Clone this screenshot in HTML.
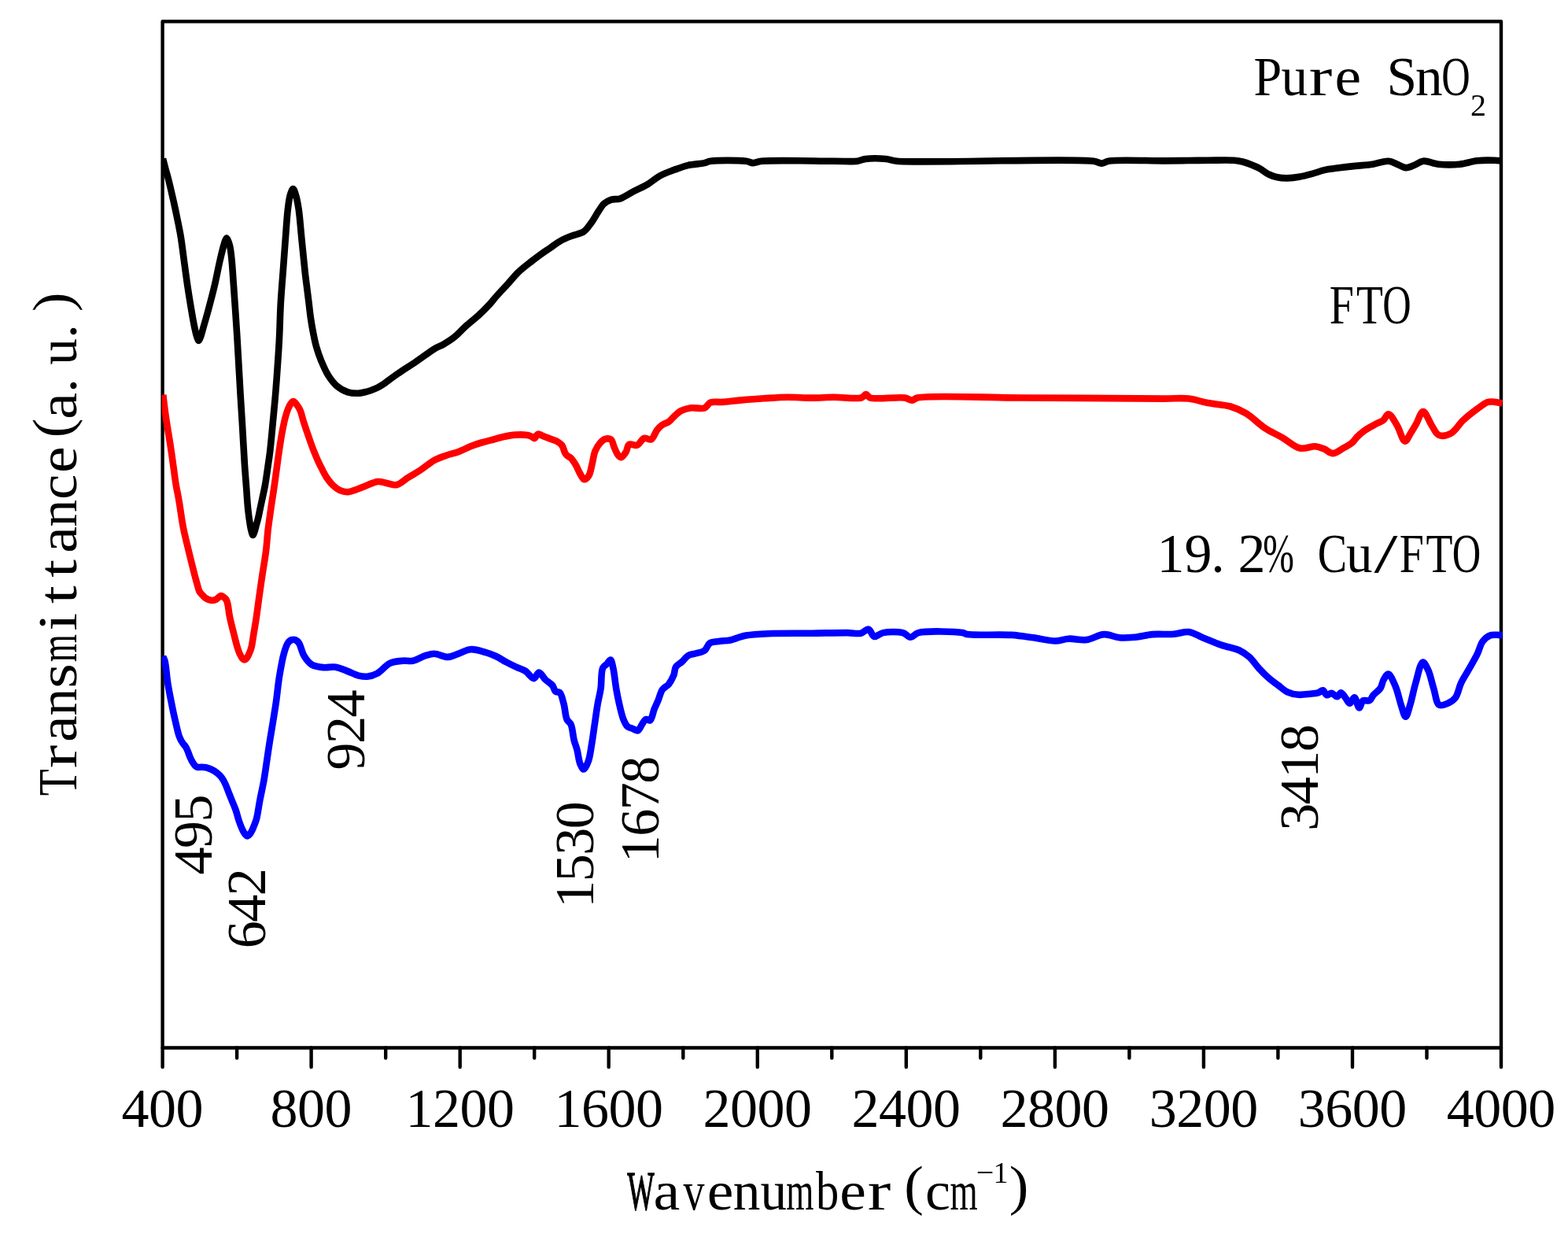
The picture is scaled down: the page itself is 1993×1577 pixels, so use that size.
<!DOCTYPE html>
<html><head><meta charset="utf-8"><title>FTIR</title>
<style>html,body{margin:0;padding:0;background:#fff;width:1993px;height:1577px;overflow:hidden}svg{display:block}</style>
</head><body><svg width="1993" height="1577" viewBox="0 0 1993 1577"><rect width="100%" height="100%" fill="#fff"/><rect x="206.6" y="27.2" width="1701.4" height="1304.3" fill="none" stroke="#000" stroke-width="4.4" stroke-linejoin="round"/><path d="M206.6 1331.5V1356.0M301.1 1331.5V1344.5M395.6 1331.5V1356.0M490.2 1331.5V1344.5M584.7 1331.5V1356.0M679.2 1331.5V1344.5M773.7 1331.5V1356.0M868.3 1331.5V1344.5M962.8 1331.5V1356.0M1057.3 1331.5V1344.5M1151.8 1331.5V1356.0M1246.3 1331.5V1344.5M1340.9 1331.5V1356.0M1435.4 1331.5V1344.5M1529.9 1331.5V1356.0M1624.4 1331.5V1344.5M1719.0 1331.5V1356.0M1813.5 1331.5V1344.5M1908.0 1331.5V1356.0" stroke="#000" stroke-width="4.4" stroke-linecap="round" fill="none"/><defs><clipPath id="pc"><rect x="205.7" y="0" width="1704.1" height="1577"/></clipPath></defs><g clip-path="url(#pc)" fill="none" stroke-linejoin="round" stroke-linecap="butt" stroke-width="8.6"><path stroke="#000" d="M207.0 201.5 C208.2 206.0 209.3 210.5 210.5 215.0 C211.7 219.4 212.8 222.9 214.1 228.0 C215.9 235.0 218.4 246.0 220.1 253.4 C221.4 259.2 222.4 263.8 223.5 269.0 C224.6 274.3 225.7 279.7 226.8 285.0 C227.8 290.3 228.8 294.8 229.8 301.0 C231.2 309.7 232.7 322.1 234.1 332.6 C235.6 343.2 236.9 353.7 238.5 364.3 C240.1 374.9 242.0 386.5 243.6 396.0 C244.9 403.7 246.2 411.1 247.5 417.0 C248.4 421.3 249.3 425.1 250.3 428.0 C251.0 430.0 251.7 433.0 252.5 433.0 C253.3 433.0 254.2 430.1 255.0 428.0 C256.2 424.9 257.2 420.5 258.5 416.0 C260.2 410.2 262.2 403.4 264.2 396.0 C266.7 386.7 269.9 374.9 272.4 364.3 C274.9 353.8 277.1 341.9 279.2 332.6 C280.9 325.3 282.6 318.1 284.0 313.0 C284.9 309.7 285.6 306.9 286.5 305.0 C287.0 303.9 287.6 302.4 288.2 302.5 C289.3 302.6 291.0 308.3 292.0 312.0 C293.3 317.0 293.8 323.2 294.5 330.0 C295.4 338.8 296.0 350.1 296.8 360.6 C297.6 371.7 298.4 383.5 299.2 395.0 C300.0 406.6 300.8 418.3 301.5 430.0 C302.2 441.7 302.8 453.3 303.5 465.0 C304.2 476.7 304.8 487.9 305.5 500.0 C306.3 512.9 307.2 525.9 308.0 540.0 C308.9 555.7 310.0 575.8 310.9 590.0 C311.6 600.7 312.3 608.6 313.0 617.9 C313.7 627.2 314.3 637.6 315.1 645.8 C315.8 652.2 316.5 657.9 317.3 663.0 C317.9 667.1 318.5 670.9 319.3 674.0 C319.9 676.3 320.7 680.0 321.5 680.0 C322.2 680.0 323.0 676.9 323.7 675.0 C324.5 672.7 325.1 669.6 325.8 667.0 C326.5 664.5 327.1 662.5 327.8 659.7 C328.8 655.8 329.6 651.2 330.8 645.8 C332.4 638.1 335.3 625.3 336.7 617.9 C337.6 613.1 338.0 610.3 338.6 606.0 C339.3 601.1 340.2 595.1 340.9 590.0 C341.6 585.2 342.2 581.9 342.9 576.1 C344.1 566.5 345.5 550.7 346.7 538.0 C347.9 525.3 349.2 512.4 350.2 500.0 C351.2 488.1 352.0 476.7 352.8 465.0 C353.6 453.3 354.4 442.4 355.0 430.0 C355.7 415.9 356.0 399.4 356.8 385.0 C357.6 371.7 358.6 359.7 359.6 346.8 C360.6 333.5 361.6 319.7 362.6 306.2 C363.7 292.7 364.6 276.3 365.9 265.6 C366.8 258.5 367.4 252.6 368.8 248.0 C369.8 244.7 371.3 240.0 372.5 240.0 C373.7 240.0 375.0 244.7 376.0 248.0 C377.5 252.7 378.5 258.5 379.6 265.6 C381.2 276.3 382.3 292.7 383.7 306.2 C385.1 319.7 386.5 335.2 387.8 346.8 C388.8 355.6 389.8 362.8 390.7 370.0 C391.5 376.3 392.2 381.9 392.9 387.8 C393.6 393.7 394.2 399.6 395.1 405.5 C396.0 411.4 397.0 417.4 398.2 423.3 C399.4 429.2 400.5 435.1 402.2 441.0 C403.9 447.0 406.0 452.9 408.4 458.8 C410.9 464.8 413.6 471.3 416.9 476.6 C420.0 481.6 423.3 486.3 427.5 489.9 C431.7 493.5 437.3 496.7 442.2 498.3 C446.6 499.7 451.6 499.8 455.5 499.7 C458.7 499.6 461.3 498.9 464.0 498.3 C466.5 497.7 468.5 497.2 471.0 496.3 C473.8 495.3 477.2 493.9 480.0 492.5 C482.7 491.1 485.0 489.6 487.5 488.0 C490.0 486.3 492.0 484.5 495.0 482.4 C499.1 479.4 505.0 475.2 510.1 471.8 C515.1 468.4 520.2 465.4 525.2 462.0 C530.2 458.6 535.5 454.8 540.2 451.5 C544.4 448.6 548.2 445.6 552.3 443.2 C556.2 440.9 560.3 439.5 564.3 437.2 C568.7 434.6 573.4 431.7 577.8 428.2 C582.7 424.3 587.0 419.0 592.0 414.5 C597.1 409.9 602.8 405.7 608.0 401.0 C613.2 396.2 618.9 390.4 623.0 386.0 C626.0 382.7 627.5 380.4 630.5 377.0 C634.6 372.3 640.7 366.0 645.6 360.6 C650.2 355.5 654.2 350.3 659.1 345.6 C664.2 340.8 670.6 336.0 675.7 332.0 C680.0 328.6 683.7 325.9 687.7 323.0 C691.7 320.1 695.8 317.5 699.8 314.7 C703.8 311.9 707.4 308.8 711.8 306.4 C716.4 303.8 721.8 301.7 726.9 299.7 C731.9 297.7 737.8 297.2 741.9 294.4 C745.7 291.8 748.0 287.9 751.0 283.9 C754.6 279.1 758.4 271.8 761.5 267.3 C763.7 264.0 765.0 261.2 767.5 259.0 C770.0 256.7 773.2 254.9 776.6 253.8 C780.2 252.6 784.4 253.7 788.6 252.3 C793.8 250.6 799.5 246.2 805.2 243.2 C811.1 240.1 817.6 237.5 823.2 234.2 C828.6 231.0 832.9 226.7 838.3 223.7 C843.9 220.6 850.2 218.4 856.3 216.1 C862.3 213.9 868.1 211.6 874.4 210.1 C881.1 208.5 890.3 208.3 895.5 207.1 C898.7 206.4 899.4 205.3 903.0 204.8 C911.7 203.5 938.9 203.6 948.2 204.8 C952.4 205.3 954.1 207.0 957.2 207.1 C960.6 207.2 962.4 205.4 967.7 204.8 C983.2 203.1 1037.7 204.8 1060.0 204.8 C1072.7 204.8 1082.7 205.7 1090.0 204.7 C1094.3 204.1 1095.8 202.6 1100.0 202.0 C1106.6 201.1 1118.7 201.3 1126.0 202.0 C1131.4 202.5 1132.4 204.0 1140.0 204.7 C1171.8 207.7 1362.3 200.8 1390.0 204.7 C1395.7 205.5 1396.7 207.6 1400.0 207.6 C1403.3 207.6 1405.1 205.2 1410.0 204.5 C1422.7 202.6 1461.5 204.5 1480.0 204.4 C1492.1 204.3 1500.4 204.1 1510.0 204.0 C1518.8 203.9 1526.2 203.8 1535.2 203.8 C1545.5 203.8 1560.2 203.2 1568.3 203.8 C1573.0 204.2 1575.7 204.6 1579.3 205.5 C1583.0 206.4 1586.7 207.8 1590.4 209.3 C1594.1 210.8 1597.8 212.3 1601.4 214.3 C1605.2 216.4 1608.7 219.6 1612.5 221.5 C1616.1 223.2 1619.6 224.5 1623.5 225.3 C1627.6 226.2 1632.2 226.5 1636.7 226.4 C1641.4 226.3 1646.2 225.7 1651.1 224.8 C1656.5 223.9 1662.2 222.4 1667.7 220.9 C1673.2 219.4 1678.7 217.1 1684.2 215.9 C1689.5 214.7 1694.2 214.4 1700.0 213.6 C1706.9 212.7 1715.3 211.7 1722.8 210.9 C1730.2 210.1 1737.8 209.8 1744.9 208.7 C1751.7 207.7 1759.2 204.3 1764.8 204.7 C1769.1 205.0 1772.1 207.3 1775.8 208.7 C1779.5 210.1 1783.1 212.9 1786.8 213.1 C1790.5 213.3 1794.3 211.2 1797.9 209.8 C1801.6 208.4 1804.6 205.2 1808.9 204.7 C1814.5 204.0 1821.7 208.0 1828.8 208.7 C1837.0 209.5 1846.9 209.5 1855.3 208.7 C1863.0 207.9 1870.0 205.1 1877.4 204.3 C1884.7 203.5 1893.5 203.6 1899.4 203.8 C1903.4 203.9 1906.1 204.3 1909.5 204.6"/><path stroke="#f00" d="M207.3 501.8 C208.0 507.9 208.7 514.2 209.5 520.0 C210.2 525.4 210.9 530.1 211.7 535.6 C212.7 541.9 213.9 549.2 215.0 556.0 C216.1 562.7 217.1 569.4 218.1 576.2 C219.1 583.1 220.0 590.2 221.0 597.0 C221.9 603.7 222.8 611.1 223.8 616.8 C224.5 621.1 225.3 624.2 226.0 628.0 C226.7 631.9 227.3 635.1 228.1 640.0 C229.4 647.8 230.9 660.3 232.9 670.4 C234.9 680.6 237.6 690.8 240.0 700.9 C242.5 711.1 245.6 723.8 247.6 731.3 C248.8 735.8 249.5 738.5 250.5 742.0 C251.5 745.3 252.1 749.0 253.5 751.6 C254.7 753.8 256.5 755.4 258.0 757.0 C259.3 758.4 260.4 759.5 262.0 760.5 C263.9 761.6 266.6 762.8 268.7 763.0 C270.5 763.2 272.4 762.7 274.0 762.0 C275.5 761.3 276.8 759.9 278.0 759.0 C279.1 758.2 279.9 757.0 281.0 757.0 C282.1 757.0 283.4 758.2 284.5 759.0 C285.6 759.8 286.7 760.7 287.5 762.0 C288.5 763.6 288.9 765.5 289.5 768.0 C290.4 771.8 290.7 777.4 291.8 782.8 C293.1 789.6 295.5 798.6 297.3 805.7 C298.8 811.8 300.3 818.1 301.8 822.8 C302.9 826.2 303.8 829.0 305.0 831.5 C305.9 833.4 306.9 835.3 308.0 836.5 C308.8 837.4 309.8 838.5 310.7 838.5 C311.6 838.5 312.6 837.5 313.5 836.5 C314.6 835.2 315.6 833.1 316.5 831.0 C317.6 828.6 318.6 826.1 319.5 822.8 C320.7 818.2 321.4 811.8 322.4 805.7 C323.6 798.6 325.0 790.4 326.1 782.8 C327.2 775.2 328.1 768.1 329.2 760.0 C330.5 750.7 332.0 740.0 333.5 730.0 C335.0 720.0 336.9 709.7 338.1 700.0 C339.2 691.0 339.6 682.6 340.6 673.7 C341.7 664.5 343.1 655.1 344.4 645.8 C345.7 636.5 347.4 626.5 348.6 617.9 C349.7 610.4 350.6 603.6 351.5 597.0 C352.3 591.0 353.0 585.7 353.8 580.0 C354.6 574.3 355.4 568.7 356.3 563.0 C357.2 557.3 358.2 551.2 359.3 545.7 C360.3 540.6 361.3 535.5 362.5 531.0 C363.6 527.0 364.7 523.2 366.0 520.0 C367.1 517.4 368.2 514.8 369.5 513.0 C370.5 511.7 371.6 510.0 372.8 510.0 C374.1 510.0 375.7 512.3 377.0 514.0 C378.6 516.0 380.3 518.6 381.6 521.6 C383.3 525.3 384.2 530.6 385.6 535.0 C387.0 539.5 388.5 543.9 390.0 548.3 C391.5 552.7 393.0 557.2 394.6 561.6 C396.2 566.0 397.8 570.5 399.6 574.9 C401.4 579.4 403.4 584.2 405.3 588.2 C406.9 591.6 408.4 594.4 410.0 597.5 C411.7 600.7 413.2 603.9 415.3 607.0 C417.7 610.4 420.7 614.4 423.7 617.2 C426.3 619.7 429.0 621.8 432.1 623.2 C435.1 624.5 438.5 625.4 441.8 625.3 C445.5 625.2 449.4 623.3 453.2 622.0 C457.2 620.6 461.0 618.8 465.3 617.2 C470.0 615.4 475.5 612.4 480.3 612.0 C484.5 611.7 488.3 613.5 492.3 614.2 C496.3 614.9 500.3 616.9 504.4 616.0 C509.3 615.0 514.1 609.7 519.1 606.6 C524.1 603.5 529.0 600.9 534.2 597.5 C540.0 593.7 546.4 587.9 552.3 584.7 C557.4 581.9 562.3 580.5 567.3 578.7 C572.3 577.0 577.2 576.1 582.4 574.2 C588.1 572.1 594.7 568.6 600.0 566.5 C604.3 564.8 607.9 563.7 612.0 562.5 C616.3 561.2 620.6 560.3 625.1 559.1 C629.9 557.8 635.0 556.1 640.0 555.0 C645.0 553.9 650.1 552.9 655.2 552.6 C660.2 552.3 666.4 552.3 670.2 553.0 C672.6 553.4 674.4 554.2 676.0 555.0 C677.3 555.6 678.3 557.3 679.3 557.1 C680.3 556.9 681.1 554.5 682.0 553.5 C682.8 552.7 683.3 551.7 684.3 551.6 C685.5 551.4 687.3 552.8 689.0 553.5 C690.9 554.3 692.8 555.1 695.3 556.1 C698.9 557.5 705.0 559.1 708.4 561.1 C710.9 562.6 712.8 563.9 714.4 566.1 C716.3 568.7 716.9 573.6 718.4 576.0 C719.4 577.6 720.3 578.5 721.5 579.5 C722.7 580.5 724.1 580.6 725.4 581.8 C727.4 583.6 729.6 587.1 731.5 590.2 C733.7 593.8 735.5 598.9 737.5 602.3 C739.1 605.0 740.6 609.1 742.5 609.3 C744.3 609.5 746.9 606.7 748.5 604.3 C750.6 601.0 751.2 595.1 752.5 590.2 C753.9 584.8 754.5 578.0 756.5 573.2 C758.1 569.3 760.3 565.7 762.6 563.1 C764.4 561.0 766.3 558.9 768.6 558.1 C770.9 557.3 774.6 557.2 776.6 558.6 C778.8 560.2 779.1 564.9 780.6 568.1 C782.1 571.4 783.7 576.0 785.6 578.2 C786.9 579.7 788.3 581.4 789.7 581.2 C791.6 581.0 794.1 576.8 795.7 574.2 C797.4 571.4 797.3 566.2 799.7 564.8 C802.0 563.4 806.7 566.9 809.7 565.8 C813.1 564.6 815.4 557.9 818.7 556.8 C821.5 555.9 825.1 559.5 827.7 558.3 C830.9 556.9 832.7 549.4 835.3 546.2 C837.3 543.7 838.9 541.9 841.3 540.2 C843.9 538.3 847.6 537.7 850.3 535.7 C853.1 533.7 855.2 530.5 857.8 528.2 C860.3 526.0 862.4 523.7 865.4 522.1 C868.8 520.3 872.9 519.1 877.4 518.4 C882.8 517.6 891.0 520.1 895.5 518.4 C898.9 517.1 899.8 512.9 903.0 511.6 C906.9 510.0 912.6 511.3 918.1 510.9 C924.9 510.4 932.6 509.3 940.6 508.6 C949.9 507.8 960.7 506.9 970.7 506.3 C980.8 505.7 990.8 504.9 1000.9 504.8 C1010.9 504.7 1021.1 505.6 1031.0 505.6 C1040.8 505.6 1049.9 504.9 1060.0 504.8 C1071.1 504.7 1088.4 507.5 1095.0 505.4 C1098.0 504.4 1098.9 500.9 1100.8 501.0 C1102.6 501.1 1103.1 504.4 1106.0 505.5 C1113.3 508.2 1140.8 504.0 1150.0 505.5 C1154.3 506.2 1156.5 508.9 1159.3 508.7 C1161.7 508.6 1162.2 506.4 1166.0 505.5 C1182.2 501.8 1252.0 505.4 1300.0 505.5 C1355.6 505.7 1444.8 506.5 1480.0 506.6 C1494.6 506.6 1501.3 505.5 1510.9 506.6 C1519.5 507.6 1526.7 510.5 1535.2 512.1 C1544.3 513.8 1555.4 514.0 1563.9 516.5 C1571.3 518.7 1577.1 521.3 1583.8 525.3 C1591.8 530.1 1599.9 538.8 1608.0 544.1 C1615.3 548.9 1622.8 552.0 1630.1 556.2 C1637.5 560.5 1644.8 567.9 1652.2 569.5 C1658.7 570.9 1666.4 566.8 1672.0 567.3 C1676.3 567.7 1679.5 569.2 1683.1 570.6 C1686.8 572.1 1690.3 576.1 1694.1 576.1 C1698.3 576.1 1703.2 571.8 1707.4 569.5 C1711.3 567.4 1715.4 565.4 1718.4 562.8 C1721.1 560.5 1722.5 557.6 1725.0 555.1 C1727.7 552.4 1730.4 549.9 1733.9 547.4 C1738.2 544.3 1744.9 541.0 1749.3 538.6 C1752.6 536.8 1755.5 536.2 1758.1 534.2 C1760.7 532.2 1762.3 526.3 1764.8 526.4 C1768.1 526.5 1772.5 535.4 1775.8 540.8 C1779.5 546.7 1782.4 560.3 1785.7 560.6 C1788.3 560.8 1791.1 553.3 1793.5 549.6 C1795.9 546.0 1797.8 542.6 1800.1 538.6 C1802.8 533.9 1805.7 523.2 1808.9 523.1 C1812.3 523.0 1816.3 535.5 1819.9 540.8 C1822.9 545.3 1824.8 551.2 1828.8 552.9 C1832.9 554.6 1839.5 553.2 1844.2 550.7 C1849.9 547.7 1854.2 539.3 1859.7 534.2 C1865.2 529.0 1871.8 523.9 1877.4 519.8 C1882.0 516.4 1886.8 512.3 1890.6 511.0 C1893.0 510.2 1894.8 510.4 1897.0 510.5 C1899.2 510.6 1901.6 511.2 1903.8 511.5 C1905.8 511.8 1907.6 512.2 1909.5 512.5"/><path stroke="#00f" d="M207.0 834.0 C207.8 836.0 208.7 837.2 209.5 840.0 C211.1 845.9 211.8 859.0 213.3 868.5 C214.8 878.0 217.0 888.5 218.7 897.1 C220.1 904.1 221.3 909.8 222.8 916.1 C224.3 922.4 226.0 930.5 227.6 935.1 C228.6 937.9 229.5 939.6 230.5 941.5 C231.4 943.1 232.4 944.3 233.3 945.6 C234.2 946.8 235.2 947.7 236.0 949.0 C236.9 950.5 237.7 952.3 238.5 954.2 C239.5 956.5 240.4 959.6 241.5 962.0 C242.5 964.3 243.5 966.5 244.7 968.4 C245.7 970.1 246.8 971.9 248.0 973.0 C249.0 973.9 250.1 974.7 251.4 975.0 C252.8 975.3 254.4 974.8 256.0 974.8 C257.8 974.8 259.8 974.8 261.8 975.2 C263.9 975.6 266.0 976.5 268.2 977.5 C270.6 978.6 273.3 980.2 275.5 981.9 C277.7 983.6 279.6 985.4 281.4 987.7 C283.4 990.2 285.0 993.3 286.5 996.5 C288.1 999.9 289.4 1003.8 290.8 1007.4 C292.3 1011.1 293.7 1014.7 295.2 1018.4 C296.7 1022.0 298.2 1025.4 299.6 1029.3 C301.2 1033.8 302.4 1039.4 304.0 1043.9 C305.4 1047.8 306.9 1051.9 308.4 1054.8 C309.4 1056.9 310.4 1058.6 311.5 1060.0 C312.4 1061.1 313.2 1062.5 314.2 1062.5 C315.2 1062.6 316.5 1061.1 317.5 1060.0 C318.7 1058.7 319.6 1056.8 320.5 1055.0 C321.4 1053.1 322.2 1051.2 323.0 1049.0 C324.0 1046.5 325.0 1044.3 326.0 1040.8 C327.6 1034.8 328.9 1024.3 330.5 1016.0 C332.1 1007.8 334.0 999.6 335.5 991.3 C336.9 983.1 338.0 974.8 339.2 966.6 C340.4 958.3 341.6 950.1 342.9 941.8 C344.2 933.6 345.7 925.3 347.0 917.1 C348.3 908.9 349.6 901.2 350.9 892.4 C352.3 882.4 353.3 870.6 355.0 860.1 C356.7 849.9 358.7 837.9 361.0 830.0 C362.5 824.7 363.9 819.9 366.0 817.0 C367.4 815.0 369.2 813.5 371.0 813.0 C372.6 812.5 374.5 812.8 376.0 813.5 C377.5 814.2 378.7 815.4 380.0 817.3 C382.3 820.6 383.6 828.6 386.4 833.2 C389.0 837.5 392.1 842.0 396.1 844.5 C400.2 847.0 405.7 847.6 410.7 848.1 C415.9 848.7 421.5 846.9 426.6 847.7 C431.6 848.5 436.1 850.8 440.9 852.6 C445.9 854.4 451.2 857.5 455.9 858.6 C459.7 859.5 463.0 860.1 466.7 859.7 C470.8 859.3 475.3 858.0 479.6 855.7 C484.9 852.9 489.9 845.5 495.6 842.9 C500.7 840.5 506.6 840.2 511.7 839.7 C516.2 839.3 520.1 840.6 524.5 839.7 C529.7 838.7 535.7 834.7 540.6 833.2 C544.6 832.0 547.6 830.8 551.8 830.8 C557.0 830.8 564.1 835.1 569.5 834.9 C574.1 834.7 577.8 832.3 582.3 830.8 C587.4 829.1 592.7 825.6 598.4 825.2 C604.5 824.8 611.9 827.6 617.6 829.2 C622.4 830.6 626.3 832.0 630.5 834.0 C634.9 836.0 639.0 839.0 643.3 841.3 C647.6 843.6 652.0 845.8 656.2 847.7 C660.0 849.5 663.8 850.3 667.4 852.5 C671.4 854.9 675.6 862.4 678.7 862.1 C681.3 861.9 682.8 854.5 685.1 854.5 C687.6 854.5 690.2 860.7 693.1 863.5 C695.9 866.2 700.0 868.2 702.2 871.0 C704.1 873.4 704.3 877.3 706.1 878.8 C707.5 880.0 709.9 878.8 711.4 880.1 C713.9 882.3 715.1 889.3 716.6 894.5 C718.3 900.5 718.4 909.5 720.5 914.1 C721.9 917.1 724.3 917.7 725.7 920.7 C727.8 925.3 728.1 934.5 729.6 940.3 C730.8 945.1 732.4 948.6 733.6 953.3 C735.0 958.7 735.6 966.7 737.5 971.0 C738.8 973.9 740.5 977.6 742.1 977.5 C744.0 977.4 746.4 971.2 747.9 967.0 C749.9 961.5 750.7 954.0 751.9 946.8 C753.3 938.7 754.5 929.4 755.8 920.7 C757.1 912.0 758.3 902.6 759.7 894.5 C760.9 887.5 762.6 881.9 763.6 874.9 C764.8 866.8 763.7 853.9 766.2 848.8 C767.5 846.1 769.8 845.4 771.5 843.6 C773.1 841.9 774.8 838.2 776.0 838.5 C777.5 838.8 778.3 844.5 779.3 848.8 C780.9 855.5 781.8 866.8 783.2 874.9 C784.4 881.9 785.6 888.0 787.1 894.5 C788.6 901.1 790.3 908.9 792.4 914.1 C793.9 917.9 795.4 921.3 797.6 923.3 C799.4 924.9 801.9 925.0 804.1 925.9 C806.3 926.8 808.8 929.1 810.7 928.5 C812.9 927.8 814.1 923.2 815.9 920.7 C817.6 918.4 819.1 914.8 821.1 914.1 C822.7 913.6 824.8 916.2 826.3 915.4 C828.8 914.1 829.8 905.6 831.6 901.1 C833.3 897.0 835.1 893.4 836.8 889.3 C838.6 885.1 839.5 879.6 842.0 876.2 C844.1 873.3 847.5 872.4 849.8 869.7 C852.4 866.5 854.8 861.8 856.4 857.9 C857.8 854.4 857.2 850.3 859.0 847.5 C860.7 844.7 864.2 843.3 866.8 841.0 C869.5 838.6 871.7 834.9 874.7 833.1 C877.4 831.5 880.6 831.5 883.8 830.5 C887.5 829.4 892.5 828.9 895.6 826.6 C898.5 824.4 899.1 819.4 902.1 817.4 C905.4 815.2 910.8 815.5 915.2 814.8 C919.5 814.2 924.0 814.4 928.2 813.5 C932.3 812.6 936.4 810.7 940.0 809.6 C942.9 808.7 944.6 808.1 948.1 807.5 C954.6 806.4 965.2 805.7 976.2 805.2 C991.7 804.5 1014.7 804.9 1032.4 804.7 C1048.2 804.5 1065.9 804.0 1077.3 804.1 C1084.3 804.2 1089.4 805.8 1094.2 804.7 C1098.0 803.8 1101.2 799.0 1104.0 799.6 C1106.9 800.2 1108.1 808.1 1111.1 808.9 C1114.2 809.7 1117.7 805.0 1122.3 804.1 C1128.9 802.7 1141.3 802.4 1147.6 804.1 C1151.8 805.2 1154.1 809.7 1157.4 809.7 C1160.7 809.7 1162.4 805.4 1167.3 804.1 C1178.2 801.2 1214.6 802.6 1223.5 804.1 C1226.4 804.6 1226.2 805.6 1229.1 806.1 C1238.0 807.7 1269.8 805.9 1285.3 806.9 C1296.3 807.6 1304.0 809.0 1313.4 810.3 C1322.8 811.6 1333.3 814.6 1341.5 814.5 C1347.8 814.4 1352.3 812.0 1358.3 811.7 C1365.2 811.3 1373.4 814.0 1380.8 813.1 C1388.4 812.2 1396.0 806.4 1403.3 806.1 C1410.0 805.8 1416.3 809.7 1422.9 810.3 C1429.4 810.9 1435.8 810.3 1442.6 809.7 C1449.9 809.0 1457.2 806.8 1465.1 806.1 C1473.7 805.4 1484.1 806.5 1492.3 805.8 C1499.1 805.3 1504.7 802.3 1510.8 803.0 C1517.0 803.7 1522.7 807.8 1529.2 810.4 C1536.5 813.3 1544.5 816.9 1552.3 819.6 C1559.9 822.3 1569.0 823.5 1575.4 826.5 C1580.5 828.9 1584.1 831.6 1588.1 835.1 C1592.4 839.0 1596.0 844.8 1600.1 849.2 C1604.0 853.4 1608.0 857.5 1612.2 861.2 C1616.4 864.8 1621.0 868.2 1625.2 871.3 C1629.0 874.2 1632.2 877.4 1636.3 879.3 C1640.5 881.3 1645.5 882.4 1650.3 882.8 C1655.2 883.2 1660.9 882.3 1665.4 881.8 C1669.1 881.4 1672.6 881.2 1675.4 880.3 C1677.7 879.6 1679.6 876.9 1681.4 877.3 C1683.3 877.7 1684.4 882.8 1686.4 883.3 C1688.2 883.7 1690.4 880.6 1692.5 880.8 C1694.8 881.0 1697.4 885.5 1699.5 885.3 C1701.4 885.1 1702.8 880.2 1704.5 880.3 C1706.4 880.4 1708.6 885.0 1710.5 887.3 C1712.3 889.5 1713.7 893.8 1715.5 893.8 C1717.4 893.8 1719.7 886.1 1721.6 886.3 C1723.9 886.6 1725.6 899.3 1727.6 899.4 C1729.3 899.5 1730.2 891.7 1732.6 890.3 C1734.7 889.1 1738.5 891.4 1740.6 890.3 C1742.8 889.2 1743.6 885.7 1745.6 883.3 C1748.1 880.4 1752.5 877.7 1754.7 874.3 C1756.7 871.2 1756.8 867.0 1758.5 864.0 C1760.1 861.2 1762.5 856.3 1764.6 856.5 C1767.5 856.7 1771.3 866.7 1773.9 872.7 C1776.8 879.6 1778.5 889.0 1780.8 895.8 C1782.7 901.4 1784.7 910.8 1786.6 910.8 C1788.5 910.8 1790.5 901.6 1792.3 895.8 C1794.7 888.0 1796.6 877.2 1799.3 868.1 C1802.0 859.1 1805.2 841.9 1808.5 841.5 C1810.7 841.2 1813.4 847.6 1815.4 851.9 C1818.2 857.9 1819.9 867.5 1822.3 875.0 C1824.6 882.1 1825.3 893.5 1829.3 895.8 C1832.2 897.5 1837.3 895.1 1840.8 893.5 C1844.2 891.9 1847.5 889.9 1850.0 886.5 C1853.3 882.1 1854.3 873.9 1857.0 868.1 C1859.7 862.4 1863.0 857.6 1866.2 851.9 C1869.8 845.4 1874.5 837.8 1877.7 831.2 C1880.5 825.5 1881.5 819.1 1884.6 815.0 C1887.2 811.6 1890.7 808.8 1893.9 807.5 C1896.5 806.4 1899.4 806.8 1902.0 806.8 C1904.5 806.8 1907.0 807.1 1909.5 807.3"/></g><g font-family="Liberation Serif, serif" fill="#000"><text x="172.1" y="1431.5" font-size="70" text-anchor="middle">4</text><text x="206.6" y="1431.5" font-size="70" text-anchor="middle">0</text><text x="241.1" y="1431.5" font-size="70" text-anchor="middle">0</text><text x="361.1" y="1431.5" font-size="70" text-anchor="middle">8</text><text x="395.6" y="1431.5" font-size="70" text-anchor="middle">0</text><text x="430.1" y="1431.5" font-size="70" text-anchor="middle">0</text><text x="532.9" y="1431.5" font-size="70" text-anchor="middle">1</text><text x="567.4" y="1431.5" font-size="70" text-anchor="middle">2</text><text x="601.9" y="1431.5" font-size="70" text-anchor="middle">0</text><text x="636.4" y="1431.5" font-size="70" text-anchor="middle">0</text><text x="722.0" y="1431.5" font-size="70" text-anchor="middle">1</text><text x="756.5" y="1431.5" font-size="70" text-anchor="middle">6</text><text x="791.0" y="1431.5" font-size="70" text-anchor="middle">0</text><text x="825.5" y="1431.5" font-size="70" text-anchor="middle">0</text><text x="911.0" y="1431.5" font-size="70" text-anchor="middle">2</text><text x="945.5" y="1431.5" font-size="70" text-anchor="middle">0</text><text x="980.0" y="1431.5" font-size="70" text-anchor="middle">0</text><text x="1014.5" y="1431.5" font-size="70" text-anchor="middle">0</text><text x="1100.1" y="1431.5" font-size="70" text-anchor="middle">2</text><text x="1134.6" y="1431.5" font-size="70" text-anchor="middle">4</text><text x="1169.1" y="1431.5" font-size="70" text-anchor="middle">0</text><text x="1203.6" y="1431.5" font-size="70" text-anchor="middle">0</text><text x="1289.1" y="1431.5" font-size="70" text-anchor="middle">2</text><text x="1323.6" y="1431.5" font-size="70" text-anchor="middle">8</text><text x="1358.1" y="1431.5" font-size="70" text-anchor="middle">0</text><text x="1392.6" y="1431.5" font-size="70" text-anchor="middle">0</text><text x="1478.2" y="1431.5" font-size="70" text-anchor="middle">3</text><text x="1512.7" y="1431.5" font-size="70" text-anchor="middle">2</text><text x="1547.2" y="1431.5" font-size="70" text-anchor="middle">0</text><text x="1581.7" y="1431.5" font-size="70" text-anchor="middle">0</text><text x="1667.2" y="1431.5" font-size="70" text-anchor="middle">3</text><text x="1701.7" y="1431.5" font-size="70" text-anchor="middle">6</text><text x="1736.2" y="1431.5" font-size="70" text-anchor="middle">0</text><text x="1770.7" y="1431.5" font-size="70" text-anchor="middle">0</text><text x="1856.2" y="1431.5" font-size="70" text-anchor="middle">4</text><text x="1890.8" y="1431.5" font-size="70" text-anchor="middle">0</text><text x="1925.2" y="1431.5" font-size="70" text-anchor="middle">0</text><text x="1959.8" y="1431.5" font-size="70" text-anchor="middle">0</text><text x="-33.00" y="0" font-size="70" transform="translate(814.5 1537.0) scale(0.516 1)" stroke="#000" stroke-width="1.6">W</text><text x="-16.29" y="0" font-size="70" transform="translate(848.2 1537.0) scale(1.085 1)">a</text><text x="-17.50" y="0" font-size="70" transform="translate(882.0 1537.0) scale(0.771 1)">v</text><text x="-15.69" y="0" font-size="70" transform="translate(915.7 1537.0) scale(1.081 1)">e</text><text x="-17.77" y="0" font-size="70" transform="translate(949.4 1537.0) scale(0.990 1)">n</text><text x="-17.36" y="0" font-size="70" transform="translate(983.1 1537.0) scale(0.958 1)">u</text><text x="-27.41" y="0" font-size="70" transform="translate(1016.9 1537.0) scale(0.646 1)">m</text><text x="-16.17" y="0" font-size="70" transform="translate(1050.6 1537.0) scale(0.835 1)">b</text><text x="-15.69" y="0" font-size="70" transform="translate(1084.3 1537.0) scale(1.081 1)">e</text><text x="-12.05" y="0" font-size="70" transform="translate(1118.1 1537.0) scale(1.268 1)">r</text><text x="-12.07" y="0" font-size="70" transform="translate(1162.0 1530.0) scale(1.057 1)">(</text><text x="-15.79" y="0" font-size="70" transform="translate(1192.2 1537.0) scale(1.029 1)">c</text><text x="-27.41" y="0" font-size="70" transform="translate(1225.3 1537.0) scale(0.646 1)">m</text><text x="1252.0" y="1503.0" font-size="40" text-anchor="middle">−</text><text x="1272.0" y="1503.0" font-size="38" text-anchor="middle">1</text><text x="-11.25" y="0" font-size="70" transform="translate(1294.7 1530.0) scale(1.057 1)">)</text><text x="-19.07" y="0" font-size="70" transform="translate(1611.0 120.7) scale(0.918 1)">P</text><text x="-17.36" y="0" font-size="70" transform="translate(1645.0 120.7) scale(0.958 1)">u</text><text x="-12.05" y="0" font-size="70" transform="translate(1679.0 120.7) scale(1.268 1)">r</text><text x="-15.69" y="0" font-size="70" transform="translate(1713.5 120.7) scale(1.081 1)">e</text><text x="-19.64" y="0" font-size="70" transform="translate(1782.0 120.7) scale(0.993 1)">S</text><text x="-17.77" y="0" font-size="70" transform="translate(1816.5 120.7) scale(0.990 1)">n</text><text x="-25.28" y="0" font-size="70" transform="translate(1850.5 120.7) scale(0.721 1)">O</text><text x="1879.0" y="146.7" font-size="40" text-anchor="middle">2</text><text x="-19.21" y="0" font-size="70" transform="translate(1705.0 411.0) scale(0.800 1)">F</text><text x="-21.43" y="0" font-size="70" transform="translate(1741.0 411.0) scale(0.793 1)">T</text><text x="-25.28" y="0" font-size="70" transform="translate(1775.5 411.0) scale(0.721 1)">O</text><text x="1488.0" y="727.4" font-size="70" text-anchor="middle">1</text><text x="1523.0" y="727.4" font-size="70" text-anchor="middle">9</text><text x="1548.0" y="727.4" font-size="70" text-anchor="middle">.</text><text x="1591.0" y="727.4" font-size="70" text-anchor="middle">2</text><text x="-29.16" y="0" font-size="70" transform="translate(1625.0 727.4) scale(0.680 1)">%</text><text x="-22.85" y="0" font-size="70" transform="translate(1693.0 727.4) scale(0.801 1)">C</text><text x="-17.36" y="0" font-size="70" transform="translate(1727.5 727.4) scale(0.958 1)">u</text><text x="-9.72" y="0" font-size="70" transform="translate(1761.5 727.4) scale(1.543 1)">/</text><text x="-19.21" y="0" font-size="70" transform="translate(1794.0 727.4) scale(0.800 1)">F</text><text x="-21.43" y="0" font-size="70" transform="translate(1829.5 727.4) scale(0.793 1)">T</text><text x="-25.28" y="0" font-size="70" transform="translate(1864.0 727.4) scale(0.721 1)">O</text><g transform="translate(96.6 0) rotate(-90)"><text x="-21.43" y="0" font-size="70" transform="translate(-994.3 0.0) scale(0.793 1)">T</text><text x="-12.05" y="0" font-size="70" transform="translate(-961.0 0.0) scale(1.268 1)">r</text><text x="-16.29" y="0" font-size="70" transform="translate(-925.4 0.0) scale(1.085 1)">a</text><text x="-17.77" y="0" font-size="70" transform="translate(-892.0 0.0) scale(0.990 1)">n</text><text x="-13.79" y="0" font-size="70" transform="translate(-858.7 0.0) scale(1.168 1)">s</text><text x="-27.41" y="0" font-size="70" transform="translate(-823.5 0.0) scale(0.646 1)">m</text><text x="-9.79" y="0" font-size="70" transform="translate(-790.2 0.0) scale(1.171 1)">i</text><text x="-9.86" y="0" font-size="70" transform="translate(-755.5 0.0) scale(1.171 1)">t</text><text x="-9.86" y="0" font-size="70" transform="translate(-722.3 0.0) scale(1.171 1)">t</text><text x="-16.29" y="0" font-size="70" transform="translate(-685.0 0.0) scale(1.085 1)">a</text><text x="-17.77" y="0" font-size="70" transform="translate(-651.8 0.0) scale(0.990 1)">n</text><text x="-15.79" y="0" font-size="70" transform="translate(-618.5 0.0) scale(1.029 1)">c</text><text x="-15.69" y="0" font-size="70" transform="translate(-584.0 0.0) scale(1.081 1)">e</text><text x="-12.07" y="0" font-size="70" transform="translate(-543.4 -7.0) scale(1.057 1)">(</text><text x="-16.29" y="0" font-size="70" transform="translate(-515.0 0.0) scale(1.085 1)">a</text><text x="-490.0" y="0.0" font-size="70" text-anchor="middle">.</text><text x="-17.36" y="0" font-size="70" transform="translate(-447.2 0.0) scale(0.958 1)">u</text><text x="-421.0" y="0.0" font-size="70" text-anchor="middle">.</text><text x="-11.25" y="0" font-size="70" transform="translate(-384.4 -7.0) scale(1.057 1)">)</text></g><g transform="translate(463.0 0) rotate(-90)"><text x="-961.0" y="0.0" font-size="70" text-anchor="middle">9</text><text x="-927.5" y="0.0" font-size="70" text-anchor="middle">2</text><text x="-894.0" y="0.0" font-size="70" text-anchor="middle">4</text></g><g transform="translate(268.5 0) rotate(-90)"><text x="-1094.0" y="0.0" font-size="70" text-anchor="middle">4</text><text x="-1060.5" y="0.0" font-size="70" text-anchor="middle">9</text><text x="-1027.0" y="0.0" font-size="70" text-anchor="middle">5</text></g><g transform="translate(337.0 0) rotate(-90)"><text x="-1187.8" y="0.0" font-size="70" text-anchor="middle">6</text><text x="-1154.3" y="0.0" font-size="70" text-anchor="middle">4</text><text x="-1120.8" y="0.0" font-size="70" text-anchor="middle">2</text></g><g transform="translate(753.9 0) rotate(-90)"><text x="-1136.3" y="0.0" font-size="70" text-anchor="middle">1</text><text x="-1102.8" y="0.0" font-size="70" text-anchor="middle">5</text><text x="-1069.3" y="0.0" font-size="70" text-anchor="middle">3</text><text x="-1035.8" y="0.0" font-size="70" text-anchor="middle">0</text></g><g transform="translate(836.9 0) rotate(-90)"><text x="-1078.8" y="0.0" font-size="70" text-anchor="middle">1</text><text x="-1045.2" y="0.0" font-size="70" text-anchor="middle">6</text><text x="-1011.8" y="0.0" font-size="70" text-anchor="middle">7</text><text x="-978.2" y="0.0" font-size="70" text-anchor="middle">8</text></g><g transform="translate(1675.1 0) rotate(-90)"><text x="-1038.2" y="0.0" font-size="70" text-anchor="middle">3</text><text x="-1004.8" y="0.0" font-size="70" text-anchor="middle">4</text><text x="-971.2" y="0.0" font-size="70" text-anchor="middle">1</text><text x="-937.8" y="0.0" font-size="70" text-anchor="middle">8</text></g></g></svg></body></html>
